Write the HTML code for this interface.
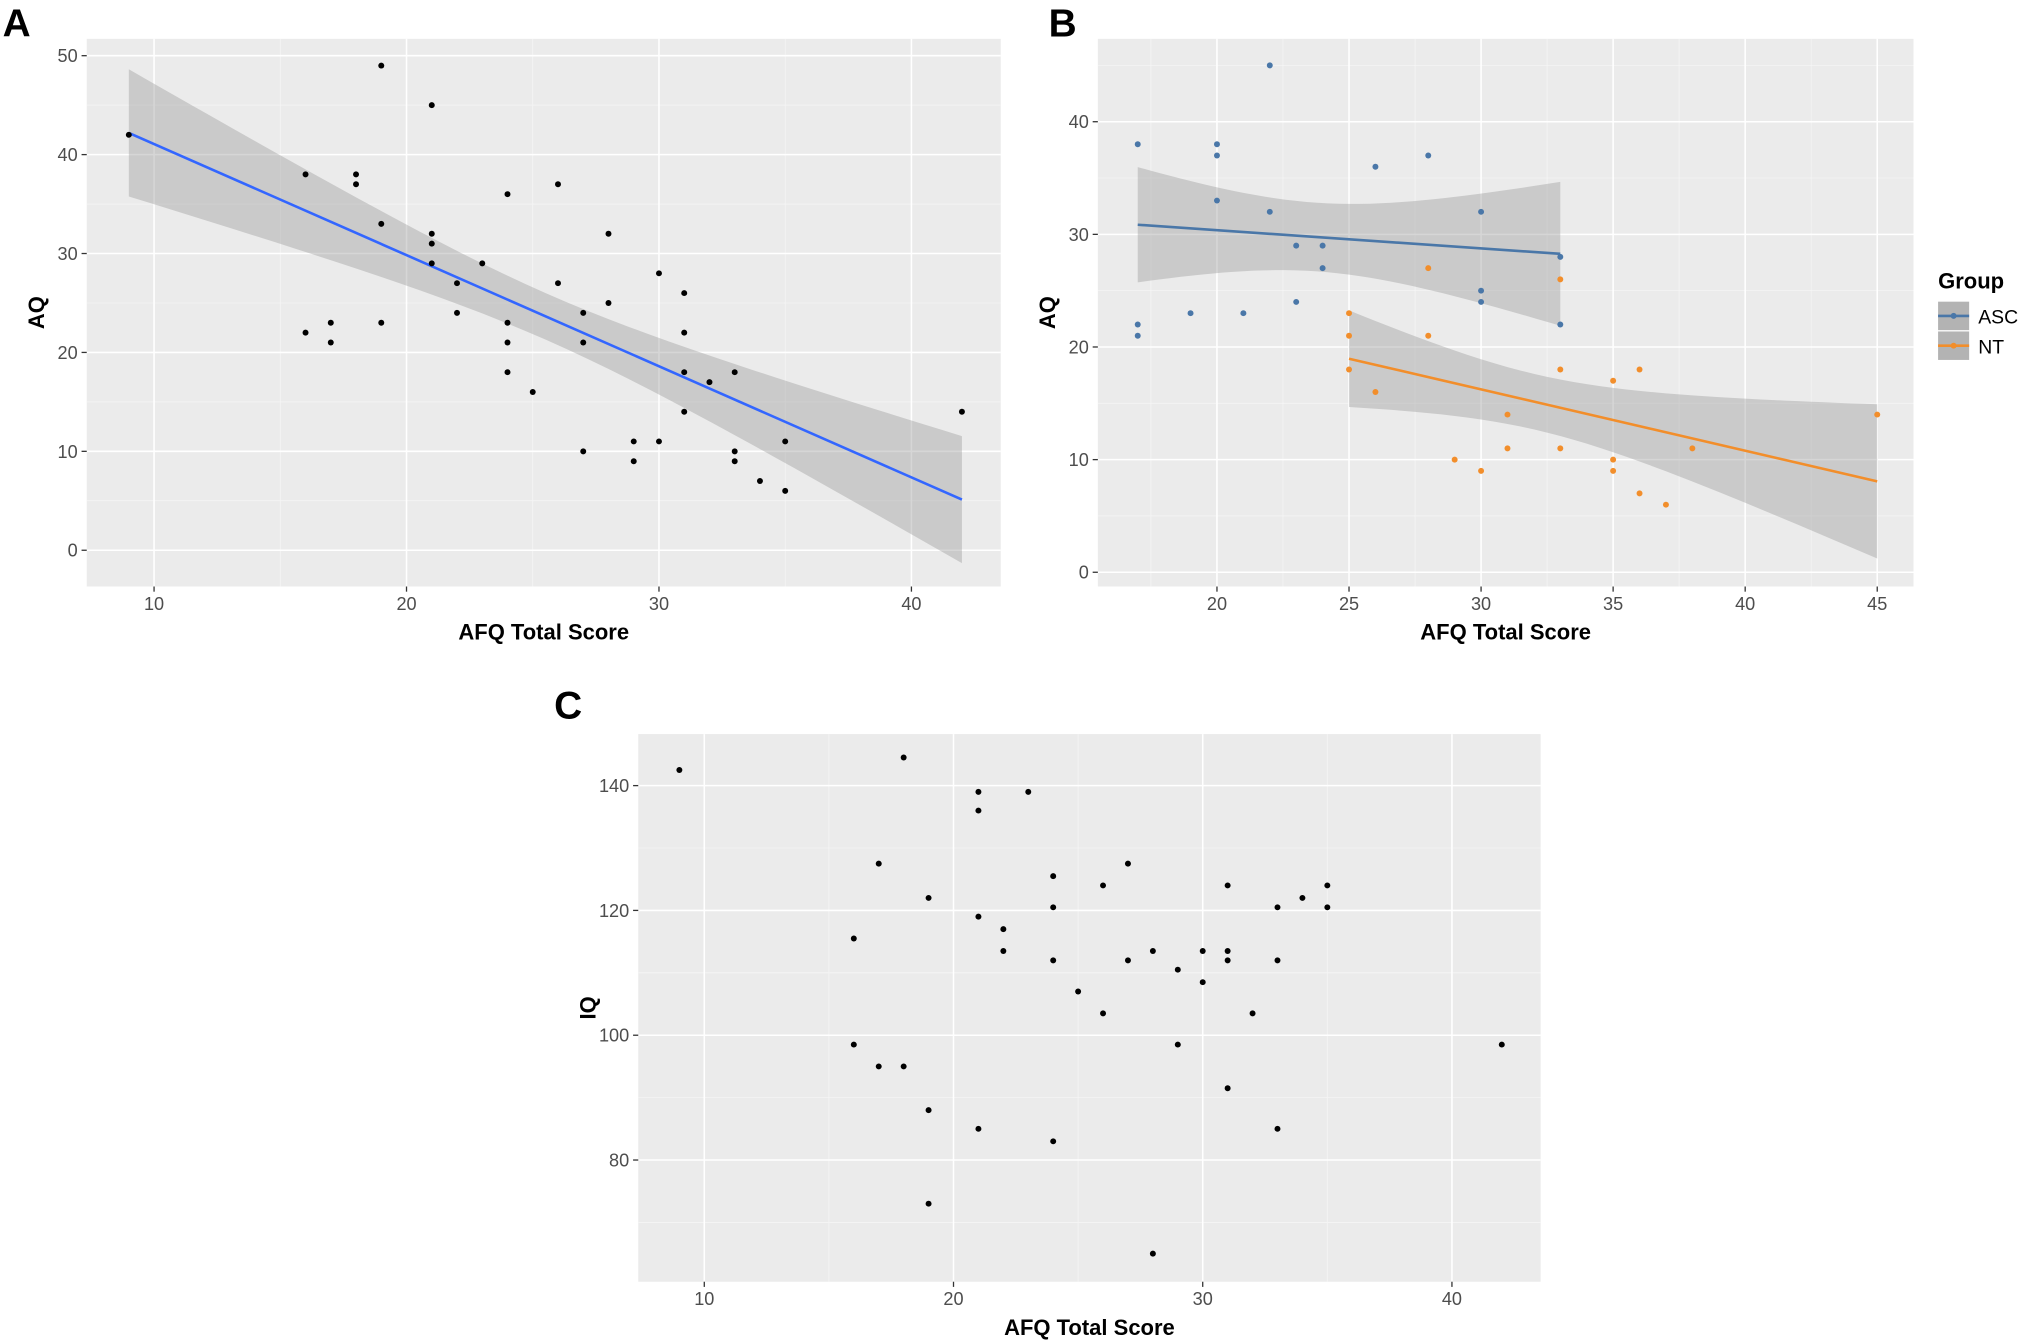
<!DOCTYPE html>
<html><head><meta charset="utf-8"><style>
html,body{margin:0;padding:0;background:#fff;}
svg{display:block;font-family:"Liberation Sans",sans-serif;}
</style></head><body>
<svg id="fig" width="2030" height="1340" viewBox="0 0 1568 1035" xmlns="http://www.w3.org/2000/svg"></svg>
<script>
// ---------- Data ----------
const aX=[9,16,16,17,17,18,18,19,19,19,21,21,21,21,22,22,23,24,24,24,24,25,26,26,27,27,27,28,28,29,29,30,30,31,31,31,31,32,33,33,33,34,35,35,42];
const aY=[42,38,22,23,21,38,37,49,33,23,45,32,31,29,27,24,29,36,23,21,18,16,37,27,24,21,10,32,25,11,9,28,11,26,22,18,14,17,18,10,9,7,11,6,14];
const ascX=[17,17,17,19,20,20,20,21,22,22,23,23,24,24,26,28,30,30,30,33,33];
const ascY=[38,22,21,23,38,37,33,23,45,32,29,24,29,27,36,37,32,25,24,28,22];
const ntX=[25,25,25,26,28,28,29,30,31,31,33,33,33,35,35,35,36,36,37,38,45];
const ntY=[23,21,18,16,27,21,10,9,14,11,26,18,11,17,10,9,18,7,6,11,14];
const cX=[9,16,16,17,17,18,18,19,19,19,21,21,21,21,22,22,23,24,24,24,24,25,26,26,27,27,28,28,29,29,30,30,31,31,31,31,32,33,33,33,34,35,35,42];
const cY=[142.5,115.5,98.5,127.5,95,144.5,95,122,88,73,139,136,119,85,117,113.5,139,125.5,120.5,112,83,107,124,103.5,127.5,112,113.5,65,110.5,98.5,113.5,108.5,124,113.5,112,91.5,103.5,120.5,112,85,122,124,120.5,98.5];
const aXTicks=[10,20,30,40], aYTicks=[0,10,20,30,40,50];
const bXTicks=[20,25,30,35,40,45], bYTicks=[0,10,20,30,40];
const cXTicks=[10,20,30,40], cYTicks=[80,100,120,140];

const NS="http://www.w3.org/2000/svg";
const svg=document.getElementById('fig');
function el(tag,attrs,parent,text){const e=document.createElementNS(NS,tag);for(const k in attrs)e.setAttribute(k,attrs[k]);if(text!==undefined)e.textContent=text;(parent||svg).appendChild(e);return e;}

function fit(xs,ys){const n=xs.length;const mx=xs.reduce((a,b)=>a+b)/n,my=ys.reduce((a,b)=>a+b)/n;let sxx=0,sxy=0;for(let i=0;i<n;i++){sxx+=(xs[i]-mx)**2;sxy+=(xs[i]-mx)*(ys[i]-my);}const b=sxy/sxx,a=my-b*mx;let sse=0;for(let i=0;i<n;i++)sse+=(ys[i]-a-b*xs[i])**2;const s=Math.sqrt(sse/(n-2));const t=2.02;return {a,b,mx,sxx,n,s,t};}

function panel(name,p){
  const g=el('g',{},svg);
  
  
  const X=v=>p.x0+(v-p.dx0)*p.kx, Y=v=>p.y0-(v-p.dy0)*p.ky;
  const bg=el('rect',{x:p.L,y:p.T,width:p.R-p.L,height:p.B-p.T,fill:'#ebebeb'},g);
  
  // minor grid
  const xs=p.xt, ys=p.yt, dxs=xs[1]-xs[0], dys=ys[1]-ys[0];
  for(let v=xs[0]-dxs/2; v<=xs[xs.length-1]+dxs; v+=dxs){const px=X(v);if(px>p.L&&px<p.R)el('line',{x1:px,x2:px,y1:p.T,y2:p.B,stroke:'#f5f5f5','stroke-width':0.6},g);}
  for(let v=ys[0]-dys/2; v<=ys[ys.length-1]+dys; v+=dys){const py=Y(v);if(py>p.T&&py<p.B)el('line',{x1:p.L,x2:p.R,y1:py,y2:py,stroke:'#f5f5f5','stroke-width':0.6},g);}
  xs.forEach(v=>{const px=X(v);el('line',{x1:px,x2:px,y1:p.T,y2:p.B,stroke:'#fff','stroke-width':1.2},g);
    el('line',{x1:px,x2:px,y1:p.B,y2:p.B+4,stroke:'#333','stroke-width':1},g);
    const t=el('text',{x:px,y:p.B+18,'text-anchor':'middle','font-size':14,fill:'#4d4d4d'},g,v);});
  ys.forEach(v=>{const py=Y(v);el('line',{x1:p.L,x2:p.R,y1:py,y2:py,stroke:'#fff','stroke-width':1.2},g);
    el('line',{x1:p.L-4,x2:p.L,y1:py,y2:py,stroke:'#333','stroke-width':1},g);
    const t=el('text',{x:p.L-7,y:py+5,'text-anchor':'end','font-size':14,fill:'#4d4d4d'},g,v);});
  const xt=el('text',{x:(p.L+p.R)/2,y:p.B+41,'text-anchor':'middle','font-size':17,'font-weight':'bold',fill:'#000'},g,'AFQ Total Score');
  
  const yt=el('text',{x:0,y:0,transform:`translate(${p.L-33},${(p.T+p.B)/2}) rotate(-90)`,'text-anchor':'middle','font-size':17,'font-weight':'bold',fill:'#000'},g,p.ylab);
  
  const lt=el('text',{x:p.letterX,y:p.letterY,'font-size':30,'font-weight':'bold',fill:'#000'},g,p.letter);
  
  return {g,X,Y};
}

function smooth(P,xs,ys,color,name){
  const f=fit(xs,ys);const lo=Math.min(...xs),hi=Math.max(...xs);
  let up=[],dn=[];
  for(let i=0;i<=40;i++){const x=lo+(hi-lo)*i/40;const yh=f.a+f.b*x;const se=f.s*Math.sqrt(1/f.n+(x-f.mx)**2/f.sxx)*f.t;
    up.push(P.X(x)+','+P.Y(yh+se));dn.unshift(P.X(x)+','+P.Y(yh-se));}
  const band=el('polygon',{points:up.concat(dn).join(' '),fill:'#999','fill-opacity':0.4},P.g);
  
  const ln=el('line',{x1:P.X(lo),y1:P.Y(f.a+f.b*lo),x2:P.X(hi),y2:P.Y(f.a+f.b*hi),stroke:color,'stroke-width':2},P.g);
  
}
function points(P,xs,ys,color,name){
  xs.forEach((x,i)=>{const c=el('circle',{cx:P.X(x),cy:P.Y(ys[i]),r:2.3,fill:color},P.g);
    });
}

// Panel A
const A=panel('panel-a',{L:67,R:773,T:30,B:453,x0:119,dx0:10,kx:19.5,y0:425,dy0:0,ky:7.64,xt:aXTicks,yt:aYTicks,ylab:'AQ',letter:'A',letterX:2,letterY:28});
smooth(A,aX,aY,'#3366ff','overall');
points(A,aX,aY,'#000','data-point');

// Panel B
const B=panel('panel-b',{L:848,R:1478,T:30,B:453,x0:940,dx0:20,kx:20.4,y0:442,dy0:0,ky:8.7,xt:bXTicks,yt:bYTicks,ylab:'AQ',letter:'B',letterX:810,letterY:28});
smooth(B,ascX,ascY,'#4a77a8','asc');
smooth(B,ntX,ntY,'#f28e2b','nt');
points(B,ascX,ascY,'#4a77a8','asc-point');
points(B,ntX,ntY,'#f28e2b','nt-point');

// Legend
const lg=el('g',{},svg);


el('text',{x:1497,y:223,'font-size':17,'font-weight':'bold'},lg,'Group');
[['ASC','#4a77a8',244],['NT','#f28e2b',267]].forEach(([lab,col,y])=>{
  const e=el('g',{},lg);
  
  
  el('rect',{x:1497,y:y-11,width:24,height:22,fill:'#b3b3b3'},e);
  el('line',{x1:1497,x2:1521,y1:y,y2:y,stroke:col,'stroke-width':2},e);
  el('circle',{cx:1509,cy:y,r:2.3,fill:col},e);
  el('text',{x:1528,y:y+6,'font-size':15,fill:'#000'},e,lab);
});

// Panel C
const C=panel('panel-c',{L:493,R:1190,T:567,B:990,x0:544,dx0:10,kx:19.25,y0:896,dy0:80,ky:4.82,xt:cXTicks,yt:cYTicks,ylab:'IQ',letter:'C',letterX:428,letterY:555});
points(C,cX,cY,'#000','data-point');
</script>
</body></html>
